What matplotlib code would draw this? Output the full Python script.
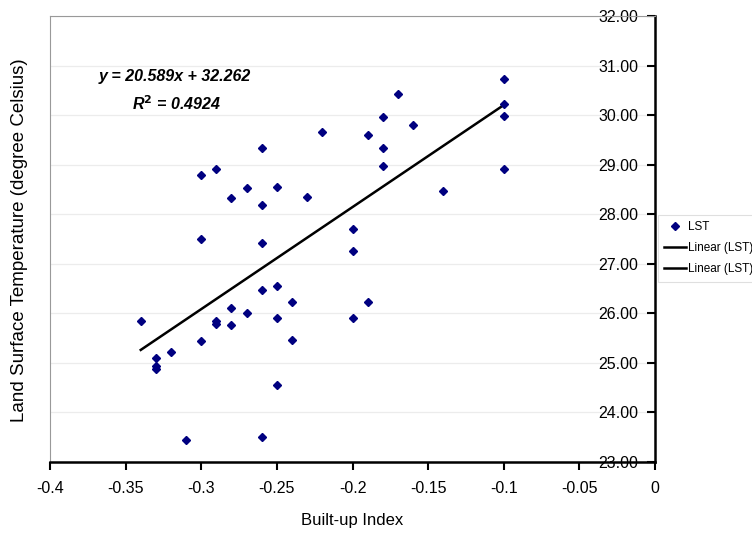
import matplotlib
matplotlib.use("Agg")
import matplotlib.pyplot as plt
from matplotlib import font_manager
from matplotlib.lines import Line2D
import numpy as np

# pick a narrow Arial-like font if it is there
names = set(f.name for f in font_manager.fontManager.ttflist)
if "Liberation Sans Narrow" in names:
    fam = "Liberation Sans Narrow"
else:
    fam = "Liberation Sans"
plt.rcParams['font.family'] = [fam, 'DejaVu Sans']

# data
built_up = [-0.10, -0.17, -0.10, -0.10, -0.18, -0.16, -0.22, -0.19, -0.26, -0.18,
            -0.18, -0.10, -0.30, -0.29, -0.28, -0.27, -0.25, -0.26, -0.23, -0.14,
            -0.30, -0.26, -0.20, -0.20, -0.34, -0.33, -0.33, -0.33, -0.32, -0.31,
            -0.30, -0.29, -0.29, -0.28, -0.28, -0.27, -0.26, -0.26, -0.25, -0.25,
            -0.25, -0.24, -0.24, -0.20, -0.19]
lst = [30.73, 30.42, 30.23, 29.98, 29.96, 29.81, 29.66, 29.59, 29.33, 29.34,
       28.97, 28.92, 28.80, 28.91, 28.33, 28.52, 28.55, 28.18, 28.35, 28.47,
       27.51, 27.41, 27.70, 27.25, 25.85, 25.09, 24.94, 24.88, 25.21, 23.45,
       25.45, 25.84, 25.79, 26.11, 25.77, 26.00, 26.47, 23.50, 26.55, 25.91,
       24.55, 26.23, 25.46, 25.90, 26.22]

slope = 20.589
intercept = 32.262
r2 = 0.4924

x_ticks = [-0.4, -0.35, -0.3, -0.25, -0.2, -0.15, -0.1, -0.05, 0]
x_tick_labels = ["-0.4", "-0.35", "-0.3", "-0.25", "-0.2", "-0.15", "-0.1", "-0.05", "0"]
y_ticks = [23, 24, 25, 26, 27, 28, 29, 30, 31, 32]
legend_labels = ["LST", "Linear (LST)", "Linear (LST)"]

fig = plt.figure(figsize=(7.52, 5.35), dpi=100)
ax = fig.add_axes([50/752, 73/535, 605/752, 446/535])

ax.grid(axis='y', color='#ececec', linewidth=0.9)
ax.set_axisbelow(True)

ax.plot(built_up, lst, linestyle='none', marker='D', markersize=4.2,
        color='#000080', zorder=3)

# trend line over the x range of the data
xl = np.array([min(built_up), max(built_up)])
ax.plot(xl, slope * xl + intercept, color='black', linewidth=1.8, zorder=2)

ax.set_xlim(-0.4, 0)
ax.set_ylim(23, 32)
ax.set_xticks(x_ticks)
ax.set_xticklabels(x_tick_labels)
ax.set_yticks(y_ticks)
ax.set_yticklabels(["%.2f" % v for v in y_ticks])

ax.spines['left'].set_color('#999999')
ax.spines['left'].set_linewidth(0.8)
ax.spines['top'].set_color('#999999')
ax.spines['top'].set_linewidth(0.8)
ax.spines['right'].set_color('black')
ax.spines['right'].set_linewidth(1.8)
ax.spines['bottom'].set_color('black')
ax.spines['bottom'].set_linewidth(1.8)

ax.tick_params(axis='x', direction='out', length=6, width=1.5, labelsize=11.5, pad=8)
ax.tick_params(axis='y', left=False, labelleft=False, right=True, labelright=True,
               direction='in', length=6, width=1.5, labelsize=11.5, pad=-12)
for lab in ax.get_yticklabels():
    lab.set_horizontalalignment('right')

ax.set_xlabel("Built-up Index", fontsize=12, labelpad=12)
fig.text(20/752, 1 - 240/535, "Land Surface Temperature (degree Celsius)",
         rotation=90, fontsize=13.5, ha='center', va='center')

ax.text(-0.368, 30.77, "y = 20.589x + 32.262", fontsize=11.5, fontweight='bold',
        fontstyle='italic', ha='left', va='center')
ax.text(-0.346, 30.24, "R$^{\\mathbf{2}}$ = %.4f" % r2, fontsize=11.5, fontweight='bold',
        fontstyle='italic', ha='left', va='center')

handles = [Line2D([], [], linestyle='none', marker='D', markersize=4.2, color='#000080'),
           Line2D([], [], color='black', linewidth=1.8),
           Line2D([], [], color='black', linewidth=1.8)]
leg = fig.legend(handles, legend_labels,
                 loc='upper left', bbox_to_anchor=(658/752, 1 - 215/535),
                 fontsize=8.5, frameon=True, fancybox=False, handlelength=1.8,
                 handletextpad=0.2, borderpad=0.55, labelspacing=0.75,
                 borderaxespad=0)
leg.get_frame().set_edgecolor('#d8d8d8')
leg.get_frame().set_linewidth(0.8)

fig.savefig("out.png", dpi=100)
